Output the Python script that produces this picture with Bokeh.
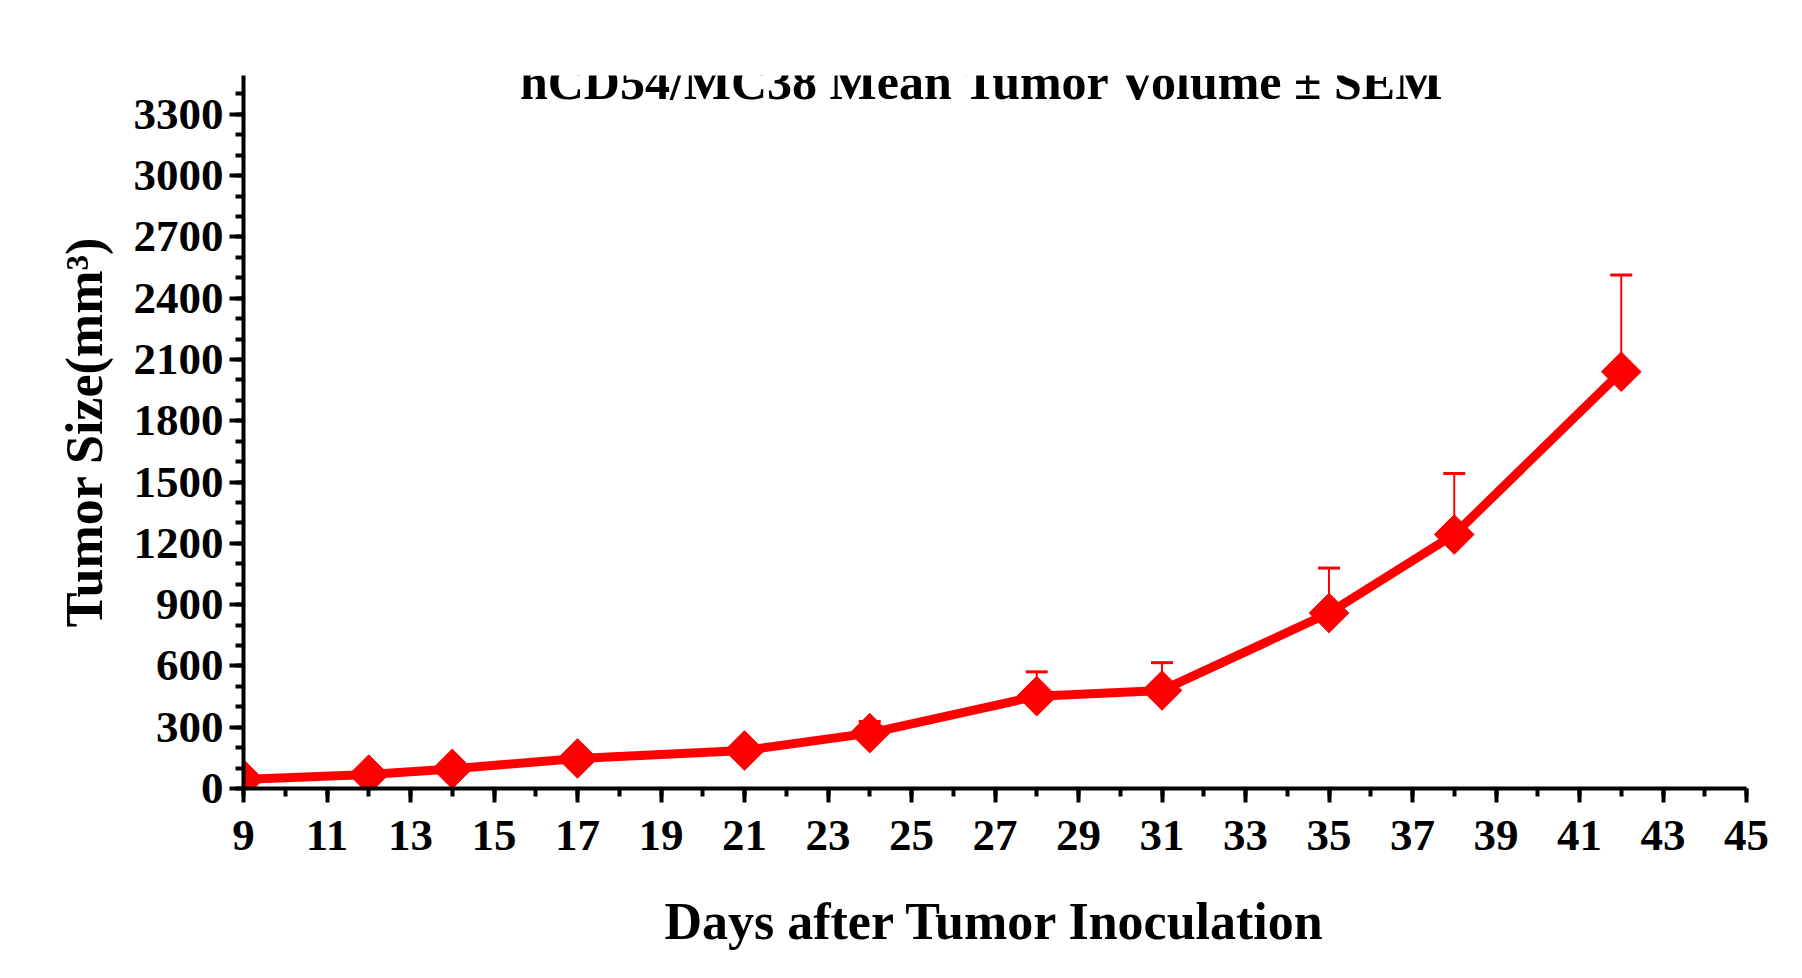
from bokeh.plotting import figure
from bokeh.models import ColumnDataSource, Whisker, TeeHead, Range1d, FixedTicker, Label
from bokeh.embed import file_html
from bokeh.resources import INLINE

days = [9, 12, 14, 17, 21, 24, 28, 31, 35, 38, 42]
mean_vol = [45, 68, 96, 147, 186, 271, 452, 480, 859, 1243, 2040]
upper_err = [45, 68, 96, 147, 186, 328, 571, 616, 1079, 1542, 2514]
x_ticks = list(range(9, 46, 2))
y_ticks = list(range(0, 3301, 300))
title_text = "hCD54/MC38 Mean Tumor Volume \u00b1 SEM"

FONT = "Liberation Serif"
src = ColumnDataSource(dict(x=days, y=mean_vol, up=upper_err))

p = figure(width=1786, height=960, output_backend="svg", toolbar_location=None,
           x_range=Range1d(9, 45), y_range=Range1d(0, 3490),
           x_axis_label="Days after Tumor Inoculation",
           y_axis_label="Tumor Size(mm\u00b3)",
           min_border_left=243, min_border_right=40, min_border_top=75, min_border_bottom=172)
p.outline_line_color = None
p.xgrid.visible = False
p.ygrid.visible = False

p.add_layout(Label(x=26.7, y=3460, text=title_text, text_align="center", text_baseline="middle",
                   text_font=FONT, text_font_style="bold", text_font_size="50px", text_color="black"))

for ax in (p.xaxis[0], p.yaxis[0]):
    ax.axis_line_width = 4
    ax.axis_line_color = "black"
    ax.major_tick_line_width = 4
    ax.minor_tick_line_width = 4
    ax.major_tick_in = 0
    ax.minor_tick_in = 0
    ax.major_label_text_font = FONT
    ax.major_label_text_font_style = "bold"
    ax.major_label_text_font_size = "45px"
    ax.major_label_text_color = "black"
    ax.axis_label_text_font = FONT
    ax.axis_label_text_font_style = "bold"
    ax.axis_label_text_font_size = "52px"
    ax.axis_label_text_color = "black"

p.xaxis.ticker = FixedTicker(ticks=x_ticks, minor_ticks=list(range(9, 46)))
p.xaxis.major_tick_out = 14
p.xaxis.minor_tick_out = 8
p.xaxis.major_label_standoff = 18
p.xaxis.axis_label_standoff = 40
p.yaxis.ticker = FixedTicker(ticks=y_ticks, minor_ticks=list(range(0, 3401, 100)))
p.yaxis.major_tick_out = 14
p.yaxis.minor_tick_out = 8
p.yaxis.major_label_standoff = 6
p.yaxis.axis_label_standoff = 18

w = Whisker(source=src, base="x", upper="up", lower="y", line_color="red", line_width=2,
            upper_head=TeeHead(size=22, line_color="red", line_width=3), lower_head=None)
p.add_layout(w)
p.line("x", "y", source=src, line_color="red", line_width=9)
p.scatter("x", "y", source=src, marker="square", angle=0.785398, size=28, color="red")

open("out.html", "w").write(file_html(p, INLINE))
